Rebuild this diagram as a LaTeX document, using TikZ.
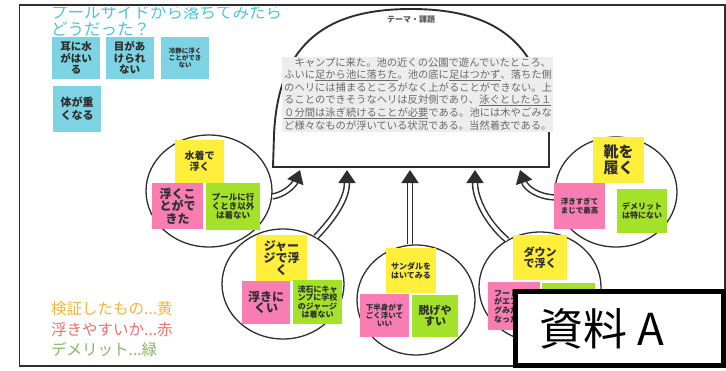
\documentclass[tikz,border=0pt]{standalone}
\usepackage{fontspec}
\newfontfamily\jp{Noto Sans CJK JP}
\usetikzlibrary{shapes.geometric,arrows.meta}
\definecolor{cyannote}{HTML}{7DD3E4}
\definecolor{yel}{HTML}{FFEF3A}
\definecolor{pnk}{HTML}{F77DB3}
\definecolor{grn}{HTML}{A4E22A}
\definecolor{ttl}{HTML}{4EC3DD}
\definecolor{lgy}{HTML}{F2B440}
\definecolor{lgr}{HTML}{EE6E6E}
\definecolor{lgg}{HTML}{86B466}
\definecolor{boxg}{HTML}{EDEDED}
\definecolor{txtg}{HTML}{6A6A6A}
\definecolor{ink}{HTML}{2E2E2E}
\newsavebox\ulbox
\newcommand\ulmark[1]{\sbox\ulbox{#1}\rlap{\raisebox{-2.2pt}{\rule{\wd\ulbox}{0.7pt}}}\usebox\ulbox}
\tikzset{
  note/.style={inner sep=0pt, align=center, text=ink},
  fs/.style 2 args={font=\jp\bfseries\fontsize{#1}{#2}\selectfont},
  sz/.style 2 args={minimum width=#1, minimum height=#2},
  yn/.style={note, fill=yel},
  pn/.style={note, fill=pnk},
  gn/.style={note, fill=grn},
  cn/.style={note, fill=cyannote},
  bubble/.style={ellipse, draw=ink, line width=1.3pt, inner sep=0pt},
  link/.style={draw=ink, line width=1.5pt, double=white, double distance=3.5pt,
    -{Triangle[length=13pt,width=17pt]}},
  storyline/.style={anchor=west, inner sep=0pt, text=txtg, font=\jp\fontsize{10.3}{12}\selectfont},
  legend/.style={anchor=west, inner sep=0pt, font=\jp\fontsize{15.5}{17}\selectfont},
}
\begin{document}
\begin{tikzpicture}[x=1pt,y=-1pt]
\useasboundingbox (0,0) rectangle (726,370);
% frame
\draw[ink, line width=1.5pt] (19.5,5) rectangle (725,366);
% dome
\draw[ink, line width=1.9pt, fill=white] (273,167) -- (274,135)
  .. controls (278,40) and (330,9) .. (411,9)
  .. controls (492,9) and (545,40) .. (549,135) -- (549,167) -- cycle;
\node[inner sep=0pt, text=ink!80, font=\jp\bfseries\fontsize{8}{9}\selectfont] (theme) at (411,20) {テーマ・課題};
% story box
\fill[boxg] (282,57) rectangle (553,132);
\node[storyline] (s1) at (284,63) {　キャンプに来た。池の近くの公園で遊んでいたところ、};
\node[storyline] (s2) at (284,75.5) {ふいに\ulmark{足から池に落ちた}。池の底に\ulmark{足はつかず}、落ちた側};
\node[storyline] (s3) at (284,88) {のヘリには捕まるところがなく上がることができない。上};
\node[storyline] (s4) at (284,100.5) {ることのできそうなヘリは反対側であり、\ulmark{泳ぐとしたら１}};
\node[storyline] (s5) at (284,113) {\ulmark{０分間は泳ぎ続けることが必要}である。池には木やごみな};
\node[storyline] (s6) at (284,125.5) {ど様々なものが浮いている状況である。当然着衣である。};
% arrow tips on the dome base
\coordinate (t1) at (300,170);
\coordinate (t2) at (347,170);
\coordinate (t3) at (410,170);
\coordinate (t4) at (475,170);
\coordinate (t5) at (520,170);
% bubbles
\node[bubble, sz={126}{112}] (c1) at (209,191) {};
\node[bubble, sz={122}{110}] (c2) at (283,284) {};
\node[bubble, sz={118}{110}] (c3) at (416,300) {};
\node[bubble, sz={122}{110}] (c4) at (540,287) {};
\node[bubble, sz={122}{110}] (c5) at (616,192) {};
% connectors
\draw[link] (c1.-5) .. controls (287,194) and (295,183) .. (t1);
\draw[link] (c2.55) .. controls (338,214) and (347,196) .. (t2);
\draw[link] (t3 |- c3.north) -- (t3);
\draw[link] (c4.125) .. controls (486,222) and (475,198) .. (t4);
\draw[link] (c5.185) .. controls (538,197) and (526,188) .. (t5);
% cyan notes
\node[cn, fs={10.5}{11.5}, sz={48}{42}] (k1) at (76,58) {耳に水\\がはい\\る};
\node[cn, fs={10.5}{11.5}, sz={48}{42}] (k2) at (129.5,58) {目があ\\けられ\\ない};
\node[cn, fs={6.5}{7}, sz={48}{42}] (k3) at (185,58) {冷静に浮く\\ことができ\\ない};
\node[cn, fs={11}{12.5}, sz={48}{46}] (k4) at (77,108.5) {体が重\\くなる};
% bubble 1
\node[yn, fs={10}{10.8}, sz={49}{43}] (n1y) at (199.5,161.5) {水着で\\浮く};
\node[pn, fs={12}{12.5}, sz={51}{46}] (n1p) at (177.5,206) {浮くこ\\とがで\\きた};
\node[gn, fs={8.5}{9.2}, sz={54}{47}] (n1g) at (233,206.5) {プールに行\\くとき以外\\は着ない};
% bubble 2
\node[yn, fs={12}{11.8}, sz={51}{46}] (n2y) at (281.5,258) {ジャー\\ジで浮\\く};
\node[pn, fs={12}{11.5}, sz={48}{43}] (n2p) at (266,302.5) {浮きに\\くい};
\node[gn, fs={8}{8.4}, sz={49}{44}] (n2g) at (317.5,302) {流石にキャ\\ンプに学校\\のジャージ\\は着ない};
% bubble 3
\node[yn, fs={8}{9}, sz={50}{45}] (n3y) at (411,270.5) {サンダルを\\はいてみる};
\node[pn, fs={7.5}{8}, sz={49}{43}] (n3p) at (384.5,315.5) {下半身がす\\ごく浮いて\\いい};
\node[gn, fs={11}{11.5}, sz={46}{42}] (n3g) at (435,316) {脱げや\\すい};
% bubble 4
\node[yn, fs={11}{11.5}, sz={54}{45}] (n4y) at (540,257.5) {ダウン\\で浮く};
\node[pn, fs={8}{8.7}, sz={52}{48}, align=left] (n4p) at (514,306) {フードの所\\がエアバッ\\グみたいに\\なった};
\node[gn, sz={53}{47}] (n4g) at (568.5,306.5) {};
% bubble 5
\node[yn, fs={15}{16.5}, sz={51}{46}] (n5y) at (618.5,160) {靴を\\履く};
\node[pn, fs={7.5}{8.3}, sz={51}{46}] (n5p) at (579.5,206) {浮きすぎて\\まじで最高};
\node[gn, fs={8}{8.4}, sz={50}{44}] (n5g) at (642,211) {デメリット\\は特にない};
% legend
\node[legend, text=lgy] (g1) at (51,309) {検証したもの...黄};
\node[legend, text=lgr] (g2) at (51,330) {浮きやすいか...赤};
\node[legend, text=lgg] (g3) at (51,350) {デメリット...緑};
% title (clipped at the top)
\begin{scope}
\clip (21,7) rectangle (724,60);
\node[anchor=west, inner sep=0pt, text=ttl, font=\jp\fontsize{16.5}{17}\selectfont] (title1) at (51,12) {プールサイドから落ちてみたら};
\node[anchor=west, inner sep=0pt, text=ttl, font=\jp\fontsize{16.5}{17}\selectfont] (title2) at (51,29) {どうだった？};
\end{scope}
% label box
\node[draw=black, line width=5pt, fill=white, sz={208}{74}, inner sep=0pt] (lbl) at (619.5,328.5) {};
\node[inner sep=0pt, font=\jp\fontsize{44}{48}\selectfont] (lbltxt) at (602,329) {資料 A};
\end{tikzpicture}
\end{document}
